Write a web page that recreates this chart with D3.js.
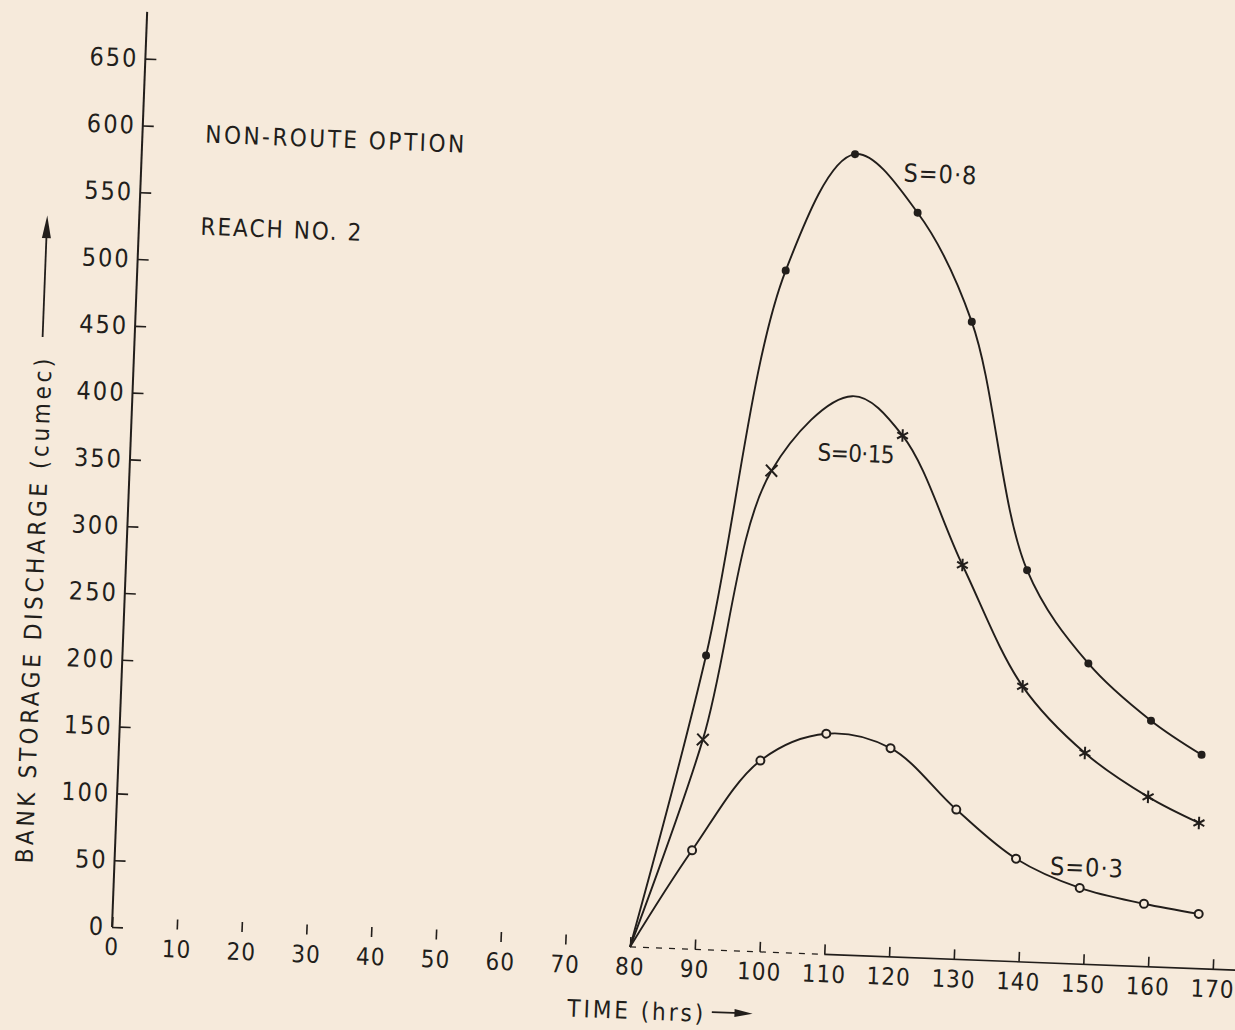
<!DOCTYPE html>
<html>
<head>
<meta charset="utf-8">
<script src="https://cdn.jsdelivr.net/npm/d3@7"></script>
<style>
  body { margin: 0; background: #f6eadb; }
  svg { display: block; }
</style>
</head>
<body>
<div id="chart"></div>
<script>
// tick labels
const timeTicks = [0, 10, 20, 30, 40, 50, 60, 70, 80, 90, 100, 110, 120, 130, 140, 150, 160, 170];
const dischargeTicks = [0, 50, 100, 150, 200, 250, 300, 350, 400, 450, 500, 550, 600, 650];

// S = 0.8 (dots)
const times08 = [80, 90, 100, 110, 120, 129, 139, 149, 159, 167];
const values08 = [0, 220, 510, 599, 557, 477, 293, 225, 184, 160];

// S = 0.15 (crosses); the peak at 111 hrs carries no mark
const times015 = [80, 90, 99, 111, 119, 129, 139, 149, 159, 167];
const values015 = [0, 157, 360, 418, 390, 295, 206, 158, 127, 109];
const marked015 = [false, true, true, false, true, true, true, true, true, true];

// S = 0.3 (open circles)
const times03 = [80, 89, 99, 109, 119, 129.5, 139, 149, 159, 167.5];
const values03 = [0, 74, 143, 165, 156, 112, 77, 57, 47, 41];

const ink = "#221e1b";
const paper = "#f6eadb";
const font = "'DejaVu Sans Condensed', 'DejaVu Sans', sans-serif";

// set the dimensions; the scanned sheet sits a little askew, so the plot is tilted
const width = 1235, height = 1030;
const origin = {x: 112, y: 927};
const tilt = 2.2;

const svg = d3.select("#chart")
    .append("svg")
    .attr("width", width)
    .attr("height", height);

svg.append("rect")
    .attr("width", width)
    .attr("height", height)
    .attr("fill", paper);

const g = svg.append("g")
    .attr("transform", `translate(${origin.x}, ${origin.y}) rotate(${tilt})`);

const x = d3.scaleLinear().domain([0, 170]).range([0, 1101.6]);
const y = d3.scaleLinear().domain([0, 650]).range([0, -869]);

// X axis: ticks point up, the line only runs from 80 hrs on
const xAxis = g.append("g")
    .call(d3.axisBottom(x).tickValues(timeTicks).tickSizeInner(-10).tickSizeOuter(0).tickPadding(11));
xAxis.select(".domain").remove();
xAxis.selectAll("line").attr("stroke", ink).attr("stroke-width", 1.6);
xAxis.selectAll("text")
    .attr("fill", ink)
    .attr("font-family", font)
    .attr("font-size", 24)
    .attr("letter-spacing", 1);

g.append("line")
    .attr("x1", x(80)).attr("x2", x(110))
    .attr("y1", 0).attr("y2", 0)
    .attr("stroke", ink)
    .attr("stroke-width", 1.3)
    .attr("stroke-dasharray", "6,7");
g.append("line")
    .attr("x1", x(110)).attr("x2", x(175))
    .attr("y1", 0).attr("y2", 0)
    .attr("stroke", ink)
    .attr("stroke-width", 1.6);

// Y axis: ticks point right, labels on the left
const yAxis = g.append("g")
    .call(d3.axisLeft(y).tickValues(dischargeTicks).tickSizeInner(-11).tickSizeOuter(0).tickPadding(7));
yAxis.select(".domain").remove();
yAxis.selectAll("line").attr("stroke", ink).attr("stroke-width", 1.6);
yAxis.selectAll("text")
    .attr("fill", ink)
    .attr("font-family", font)
    .attr("font-size", 25)
    .attr("letter-spacing", 2);

g.append("line")
    .attr("x1", 0).attr("x2", 0)
    .attr("y1", y(0)).attr("y2", y(685))
    .attr("stroke", ink)
    .attr("stroke-width", 2);

// curves
const series = [
    {times: times08, values: values08},
    {times: times015, values: values015},
    {times: times03, values: values03}
].map(s => s.times.map((t, i) => ({t: t, v: s.values[i]})));

const line = d3.line()
    .x(d => x(d.t))
    .y(d => y(d.v))
    .curve(d3.curveCatmullRom.alpha(0.5));

g.selectAll(".curve")
    .data(series)
    .join("path")
    .attr("class", "curve")
    .attr("d", line)
    .attr("fill", "none")
    .attr("stroke", ink)
    .attr("stroke-width", 1.9);

// S = 0.8 dots
g.append("g")
    .selectAll("circle")
    .data(series[0].slice(1))
    .join("circle")
    .attr("cx", d => x(d.t))
    .attr("cy", d => y(d.v))
    .attr("r", 4)
    .attr("fill", ink);

// S = 0.15 crosses
g.append("g")
    .selectAll("path")
    .data(series[1].filter((d, i) => marked015[i]))
    .join("path")
    .attr("transform", d => `translate(${x(d.t)}, ${y(d.v)})`)
    .attr("d", (d, i) => d3.symbol().type(i < 2 ? d3.symbolX : d3.symbolAsterisk).size(i < 2 ? 90 : 110)())
    .attr("fill", "none")
    .attr("stroke", ink)
    .attr("stroke-width", 2);

// S = 0.3 open circles
g.append("g")
    .selectAll("circle")
    .data(series[2].slice(1))
    .join("circle")
    .attr("cx", d => x(d.t))
    .attr("cy", d => y(d.v))
    .attr("r", 4)
    .attr("fill", paper)
    .attr("stroke", ink)
    .attr("stroke-width", 2);

// labels
const label = (tx, vy, txt, size, len) => {
    const t = g.append("text")
        .attr("x", x(tx))
        .attr("y", y(vy))
        .attr("fill", ink)
        .attr("font-family", font)
        .attr("font-size", size)
        .attr("letter-spacing", 1)
        .text(txt);
    if (len) t.attr("textLength", len).attr("lengthAdjust", "spacing");
    return t;
};

label(117.6, 580, "S=0·8", 25);
label(106, 369, "S=0·15", 24, 78);
label(144.3, 66, "S=0·3", 25);
label(9.7, 589, "NON-ROUTE OPTION", 24, 260);
label(9.5, 520, "REACH NO. 2", 24, 162);

// axis titles
g.append("text")
    .attr("transform", `translate(-82, ${y(234)}) rotate(-90)`)
    .attr("text-anchor", "middle")
    .attr("fill", ink)
    .attr("font-family", font)
    .attr("font-size", 24)
    .attr("textLength", 505)
    .attr("lengthAdjust", "spacing")
    .text("BANK STORAGE DISCHARGE (cumec)");

g.append("text")
    .attr("x", x(70.7))
    .attr("y", 72)
    .attr("fill", ink)
    .attr("font-family", font)
    .attr("font-size", 24)
    .attr("textLength", 136)
    .attr("lengthAdjust", "spacing")
    .text("TIME (hrs)");

// arrows
g.append("line")
    .attr("x1", -92).attr("x2", -92)
    .attr("y1", y(439)).attr("y2", y(520))
    .attr("stroke", ink)
    .attr("stroke-width", 1.8);
g.append("path")
    .attr("d", `M-92,${y(530)} L-96.5,${y(513)} L-87.5,${y(513)} Z`)
    .attr("fill", ink);

g.append("line")
    .attr("x1", x(93)).attr("x2", x(97.5))
    .attr("y1", 62).attr("y2", 62)
    .attr("stroke", ink)
    .attr("stroke-width", 1.8);
g.append("path")
    .attr("d", `M${x(99.3)},62 L${x(96.5)},58 L${x(96.5)},66 Z`)
    .attr("fill", ink);
</script>
</body>
</html>
